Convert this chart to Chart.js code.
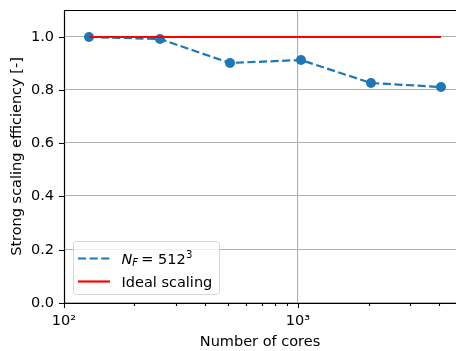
<!DOCTYPE html>
<html>
<head>
<meta charset="utf-8">
<script src="https://cdn.jsdelivr.net/npm/chart.js@4.4.0/dist/chart.umd.min.js"></script>
<style>
  html, body { margin: 0; padding: 0; background: #fff; }
  #wrap { width: 456px; height: 351px; }
</style>
</head>
<body>
<div id="wrap"><canvas id="chart-scaling" width="456" height="351"></canvas></div>
<script>
// Data
const cores = [128, 256, 512, 1024, 2048, 4096];
const efficiency = [1.0, 0.99, 0.902, 0.914, 0.826, 0.81];
const idealEfficiency = [1, 1, 1, 1, 1, 1];
const xTickValues = [100, 200, 300, 400, 500, 600, 700, 800, 900, 1000, 2000, 3000, 4000];
const xTickLabels = { 100: '10²', 1000: '10³' };
const yTickValues = [0, 0.2, 0.4, 0.6, 0.8, 1.0];
const xTitle = 'Number of cores';
const yTitle = 'Strong scaling efficiency [-]';

const FONT = 'DejaVu Sans';
const FS = 14.5;
const BLUE = '#1f77b4';
const RED = '#ff0000';
const GRID = '#b0b0b0';

function isMajor(v) { return xTickLabels[v] !== undefined; }

// spines + tick marks (major/minor lengths differ, like matplotlib)
const framePlugin = {
  id: 'frame',
  afterDraw(chart) {
    const { ctx, chartArea: a, scales } = chart;
    ctx.save();
    ctx.strokeStyle = '#000';
    ctx.lineWidth = 1.2;
    ctx.beginPath();
    ctx.moveTo(a.left + 0.5, a.bottom + 0.5);
    ctx.lineTo(a.left + 0.5, a.top + 0.5);
    ctx.lineTo(a.right, a.top + 0.5);
    ctx.moveTo(a.left + 0.5, a.bottom + 0.5);
    ctx.lineTo(a.right, a.bottom + 0.5);
    ctx.stroke();

    ctx.lineWidth = 1.1;
    ctx.beginPath();
    xTickValues.forEach(v => {
      const px = Math.round(scales.x.getPixelForValue(v)) + 0.5;
      const len = isMajor(v) ? 5 : 3;
      ctx.moveTo(px, a.bottom);
      ctx.lineTo(px, a.bottom + len);
    });
    yTickValues.forEach(v => {
      const py = Math.round(scales.y.getPixelForValue(v)) + 0.5;
      ctx.moveTo(a.left, py);
      ctx.lineTo(a.left - 5, py);
    });
    ctx.stroke();
    ctx.restore();
  }
};

// legend box in lower left with mathtext-like first label
const legendPlugin = {
  id: 'boxLegend',
  afterDraw(chart) {
    const ctx = chart.ctx;
    const bx = 73.5, by = 241.5, bw = 146, bh = 53, r = 3;
    ctx.save();
    ctx.beginPath();
    ctx.moveTo(bx + r, by);
    ctx.arcTo(bx + bw, by, bx + bw, by + bh, r);
    ctx.arcTo(bx + bw, by + bh, bx, by + bh, r);
    ctx.arcTo(bx, by + bh, bx, by, r);
    ctx.arcTo(bx, by, bx + bw, by, r);
    ctx.closePath();
    ctx.fillStyle = 'rgba(255,255,255,0.8)';
    ctx.fill();
    ctx.strokeStyle = '#d6d6d6';
    ctx.lineWidth = 1;
    ctx.stroke();

    // sample lines
    ctx.lineWidth = 2.2;
    ctx.strokeStyle = BLUE;
    ctx.setLineDash([8.1, 3.5]);
    ctx.beginPath();
    ctx.moveTo(78, 258.5);
    ctx.lineTo(110, 258.5);
    ctx.stroke();
    ctx.setLineDash([]);
    ctx.strokeStyle = RED;
    ctx.beginPath();
    ctx.moveTo(78, 281.5);
    ctx.lineTo(110, 281.5);
    ctx.stroke();

    // labels
    ctx.fillStyle = '#000';
    ctx.textBaseline = 'alphabetic';
    let x = 121.5;
    const y1 = 263.5;
    ctx.font = 'italic ' + FS + 'px "' + FONT + '"';
    ctx.fillText('N', x, y1);
    x += ctx.measureText('N').width;
    ctx.font = 'italic ' + (FS * 0.7) + 'px "' + FONT + '"';
    ctx.fillText('F', x, y1 + 2.5);
    x += ctx.measureText('F').width + 3;
    ctx.font = FS + 'px "' + FONT + '"';
    ctx.fillText('= 512', x, y1);
    x += ctx.measureText('= 512').width + 0.5;
    ctx.font = (FS * 0.7) + 'px "' + FONT + '"';
    ctx.fillText('3', x, y1 - 6);

    ctx.font = FS + 'px "' + FONT + '"';
    ctx.fillText('Ideal scaling', 121.5, 287);
    ctx.restore();
  }
};

const points = (xs, ys) => xs.map((v, i) => ({ x: v, y: ys[i] }));

new Chart(document.getElementById('chart-scaling'), {
  type: 'line',
  data: {
    datasets: [
      {
        label: 'N_F = 512^3',
        data: points(cores, efficiency),
        borderColor: BLUE,
        backgroundColor: BLUE,
        borderWidth: 2.2,
        borderDash: [8.1, 3.5],
        pointRadius: 5,
        pointBorderWidth: 0,
        pointBackgroundColor: BLUE,
        tension: 0,
        order: 2
      },
      {
        label: 'Ideal scaling',
        data: points(cores, idealEfficiency),
        borderColor: RED,
        borderWidth: 2.2,
        pointRadius: 0,
        tension: 0,
        order: 1
      }
    ]
  },
  options: {
    responsive: false,
    animation: false,
    events: [],
    layout: { autoPadding: false, padding: { top: 10, right: 0, bottom: 0, left: 0 } },
    plugins: {
      legend: { display: false },
      tooltip: { enabled: false }
    },
    scales: {
      x: {
        type: 'logarithmic',
        min: 100,
        max: 4726, // axes are cut off by the right edge of the figure
        alignToPixels: true,
        afterBuildTicks: s => { s.ticks = xTickValues.map(v => ({ value: v })); },
        afterFit: s => { s.height = 48; s.paddingLeft = 0; s.paddingRight = 0; },
        border: { display: false },
        grid: {
          drawTicks: true,
          tickLength: 5,
          tickColor: 'rgba(0,0,0,0)',
          lineWidth: 1.1,
          color: c => (c.tick && c.tick.value === 1000 ? GRID : 'rgba(0,0,0,0)')
        },
        ticks: {
          autoSkip: false,
          maxRotation: 0,
          padding: 5,
          color: '#000',
          font: { family: FONT, size: FS },
          callback: v => xTickLabels[v] || ''
        },
        title: {
          display: true,
          text: xTitle,
          color: '#000',
          font: { family: FONT, size: FS },
          padding: { top: 0, bottom: 0 }
        }
      },
      y: {
        min: 0,
        max: 1.1,
        alignToPixels: true,
        afterBuildTicks: s => { s.ticks = yTickValues.map(v => ({ value: v })); },
        afterFit: s => { s.width = 64; s.paddingTop = 0; s.paddingBottom = 0; },
        border: { display: false },
        grid: {
          drawTicks: true,
          tickLength: 5,
          tickColor: 'rgba(0,0,0,0)',
          lineWidth: 1.1,
          color: GRID
        },
        ticks: {
          padding: 5,
          color: '#000',
          font: { family: FONT, size: FS },
          callback: v => Number(v).toFixed(1)
        },
        title: {
          display: true,
          text: yTitle,
          color: '#000',
          font: { family: FONT, size: FS },
          padding: { top: 9, bottom: 0 }
        }
      }
    }
  },
  plugins: [framePlugin, legendPlugin]
});
</script>
</body>
</html>
